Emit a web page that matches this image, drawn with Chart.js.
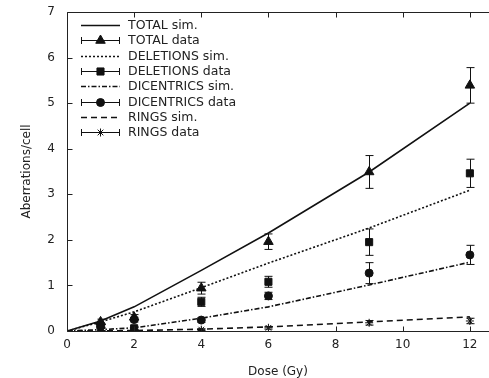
<!DOCTYPE html>
<html>
<head>
<meta charset="utf-8">
<script src="https://cdn.jsdelivr.net/npm/chart.js@4.4.0/dist/chart.umd.min.js"></script>
<style>
html, body { margin: 0; padding: 0; background: #fff; overflow: hidden; }
canvas { display: block; }
</style>
</head>
<body>
<canvas id="chart" width="489" height="378"></canvas>
<script>
// simulated curves
const simDose = [0, 1, 2, 4, 6, 9, 12];
const totalSim = [0, 0.22, 0.53, 1.33, 2.15, 3.49, 5.0];
const deletionsSim = [0, 0.2, 0.42, 0.95, 1.49, 2.26, 3.09];
const dicentricsSim = [0, 0.03, 0.07, 0.28, 0.53, 1.01, 1.51];
const ringsSim = [0, 0.0, 0.01, 0.04, 0.09, 0.2, 0.31];

// measured points + error
const dataDose = [1, 2, 4, 6, 9, 12];
const totalData = [0.2, 0.3, 0.94, 1.96, 3.49, 5.39];
const totalErr = [0.06, 0.06, 0.13, 0.17, 0.36, 0.39];
const deletionsData = [0.12, 0.06, 0.64, 1.08, 1.95, 3.46];
const deletionsErr = [0.04, 0.03, 0.1, 0.12, 0.29, 0.31];
const dicentricsData = [0.1, 0.25, 0.24, 0.77, 1.27, 1.67];
const dicentricsErr = [0.04, 0.05, 0.05, 0.08, 0.23, 0.21];
const ringsData = [0.0, 0.01, 0.03, 0.07, 0.18, 0.22];
const ringsErr = [0.01, 0.01, 0.02, 0.03, 0.05, 0.06];

const xTicks = [0, 2, 4, 6, 8, 10, 12];
const yTicks = [0, 1, 2, 3, 4, 5, 6, 7];

const FONT = 'DejaVu Sans';
const INK = '#111';

function pts(xs, ys) {
  return xs.map((v, i) => ({ x: v, y: ys[i] }));
}

function simSet(label, ys, dash) {
  return {
    label: label,
    data: pts(simDose, ys),
    borderColor: INK,
    borderWidth: 1.6,
    borderDash: dash,
    pointRadius: 0,
    showLine: true,
    fill: false
  };
}

function dataSet(label, ys, err, style, r) {
  return {
    label: label,
    data: pts(dataDose, ys),
    err: err,
    showLine: false,
    pointStyle: style,
    pointRadius: r,
    pointBackgroundColor: INK,
    pointBorderColor: INK,
    pointBorderWidth: 1
  };
}

const datasets = [
  simSet('TOTAL sim.', totalSim, []),
  dataSet('TOTAL data', totalData, totalErr, 'triangle', 5.5),
  simSet('DELETIONS sim.', deletionsSim, [2, 2]),
  dataSet('DELETIONS data', deletionsData, deletionsErr, 'rect', 5),
  simSet('DICENTRICS sim.', dicentricsSim, [5, 2, 1.5, 2]),
  dataSet('DICENTRICS data', dicentricsData, dicentricsErr, 'circle', 4),
  simSet('RINGS sim.', ringsSim, [6, 4]),
  dataSet('RINGS data', ringsData, ringsErr, 'star', 4)
];

const decor = {
  id: 'decor',
  beforeDatasetsDraw(chart) {
    const { ctx, scales: { x, y } } = chart;
    ctx.save();
    ctx.strokeStyle = INK;
    ctx.lineWidth = 1;
    chart.data.datasets.forEach(ds => {
      if (!ds.err) return;
      ds.data.forEach((p, j) => {
        const px = Math.round(x.getPixelForValue(p.x)) + 0.5;
        const lo = y.getPixelForValue(Math.max(0, p.y - ds.err[j]));
        const hi = y.getPixelForValue(p.y + ds.err[j]);
        ctx.beginPath();
        ctx.moveTo(px, lo); ctx.lineTo(px, hi);
        ctx.moveTo(px - 4, lo); ctx.lineTo(px + 4, lo);
        ctx.moveTo(px - 4, hi); ctx.lineTo(px + 4, hi);
        ctx.stroke();
      });
    });
    ctx.restore();
  },
  afterDraw(chart) {
    const { ctx, chartArea: a, scales: { x, y } } = chart;
    const L = Math.round(a.left) + 0.5, T = Math.round(a.top) + 0.5, B = Math.round(a.bottom) + 0.5;
    ctx.save();
    // keep the right edge of the plot open, like the original crop
    ctx.fillStyle = '#fff';
    ctx.fillRect(chart.width - 3, T + 1, 3, B - T - 2);
    ctx.strokeStyle = '#222';
    ctx.lineWidth = 1;
    // frame: left, top, bottom (right side lies beyond the canvas)
    ctx.beginPath();
    ctx.moveTo(chart.width, T); ctx.lineTo(L, T); ctx.lineTo(L, B); ctx.lineTo(chart.width, B);
    // inward ticks
    xTicks.forEach(v => {
      const px = Math.round(x.getPixelForValue(v)) + 0.5;
      ctx.moveTo(px, B); ctx.lineTo(px, B - 5);
      ctx.moveTo(px, T); ctx.lineTo(px, T + 5);
    });
    yTicks.forEach(v => {
      const py = Math.round(y.getPixelForValue(v)) + 0.5;
      ctx.moveTo(L, py); ctx.lineTo(L + 5, py);
    });
    ctx.stroke();

    // legend
    const x0 = 81, x1 = 120, tx = 128;
    ctx.font = '12.5px "' + FONT + '"';
    ctx.textBaseline = 'middle';
    ctx.fillStyle = '#222';
    chart.data.datasets.forEach((ds, i) => {
      const ly = Math.round(25 + i * 15.3) + 0.5;
      ctx.strokeStyle = INK;
      if (!ds.err) {
        ctx.lineWidth = ds.borderWidth;
        ctx.setLineDash(ds.borderDash);
        ctx.beginPath();
        ctx.moveTo(x0, ly); ctx.lineTo(x1, ly);
        ctx.stroke();
        ctx.setLineDash([]);
      } else {
        ctx.lineWidth = 1;
        ctx.beginPath();
        ctx.moveTo(x0, ly); ctx.lineTo(x1, ly);
        ctx.moveTo(x0 + 0.5, ly - 3.5); ctx.lineTo(x0 + 0.5, ly + 3.5);
        ctx.moveTo(x1 - 0.5, ly - 3.5); ctx.lineTo(x1 - 0.5, ly + 3.5);
        ctx.stroke();
        ctx.fillStyle = INK;
        Chart.helpers.drawPoint(ctx, {
          pointStyle: ds.pointStyle, radius: ds.pointRadius, rotation: 0, borderWidth: 1
        }, (x0 + x1) / 2, ly);
        ctx.fillStyle = '#222';
      }
      ctx.fillText(ds.label, tx, ly);
    });
    ctx.restore();
  }
};

new Chart(document.getElementById('chart'), {
  type: 'scatter',
  data: { datasets: datasets },
  options: {
    responsive: false,
    animation: false,
    layout: { autoPadding: false, padding: { top: 12, right: 0, left: 0, bottom: 0 } },
    plugins: { legend: { display: false }, tooltip: { enabled: false } },
    scales: {
      x: {
        type: 'linear',
        min: 0,
        max: 12.57,
        afterFit: s => {
          s.height = 47;
          s.paddingLeft = 0; s.paddingRight = 0;
        },
        ticks: {
          stepSize: 2, includeBounds: false, padding: 7, maxRotation: 0,
          color: '#222', font: { family: FONT, size: 12 }
        },
        grid: { display: false, drawTicks: false },
        border: { display: false },
        title: {
          display: true, text: 'Dose (Gy)', color: '#222',
          font: { family: FONT, size: 12 }, padding: { top: 0, bottom: -1 }
        }
      },
      y: {
        min: 0,
        max: 7,
        afterFit: s => {
          s.width = 67;
          s.paddingTop = 0; s.paddingBottom = 0;
        },
        ticks: {
          stepSize: 1, padding: 12, color: '#222', font: { family: FONT, size: 12 }
        },
        grid: { display: false, drawTicks: false },
        border: { display: false },
        title: {
          display: true, text: 'Aberrations/cell', color: '#222',
          font: { family: FONT, size: 12 }, padding: { top: 20, bottom: 0 }
        }
      }
    }
  },
  plugins: [decor]
});
</script>
</body>
</html>
